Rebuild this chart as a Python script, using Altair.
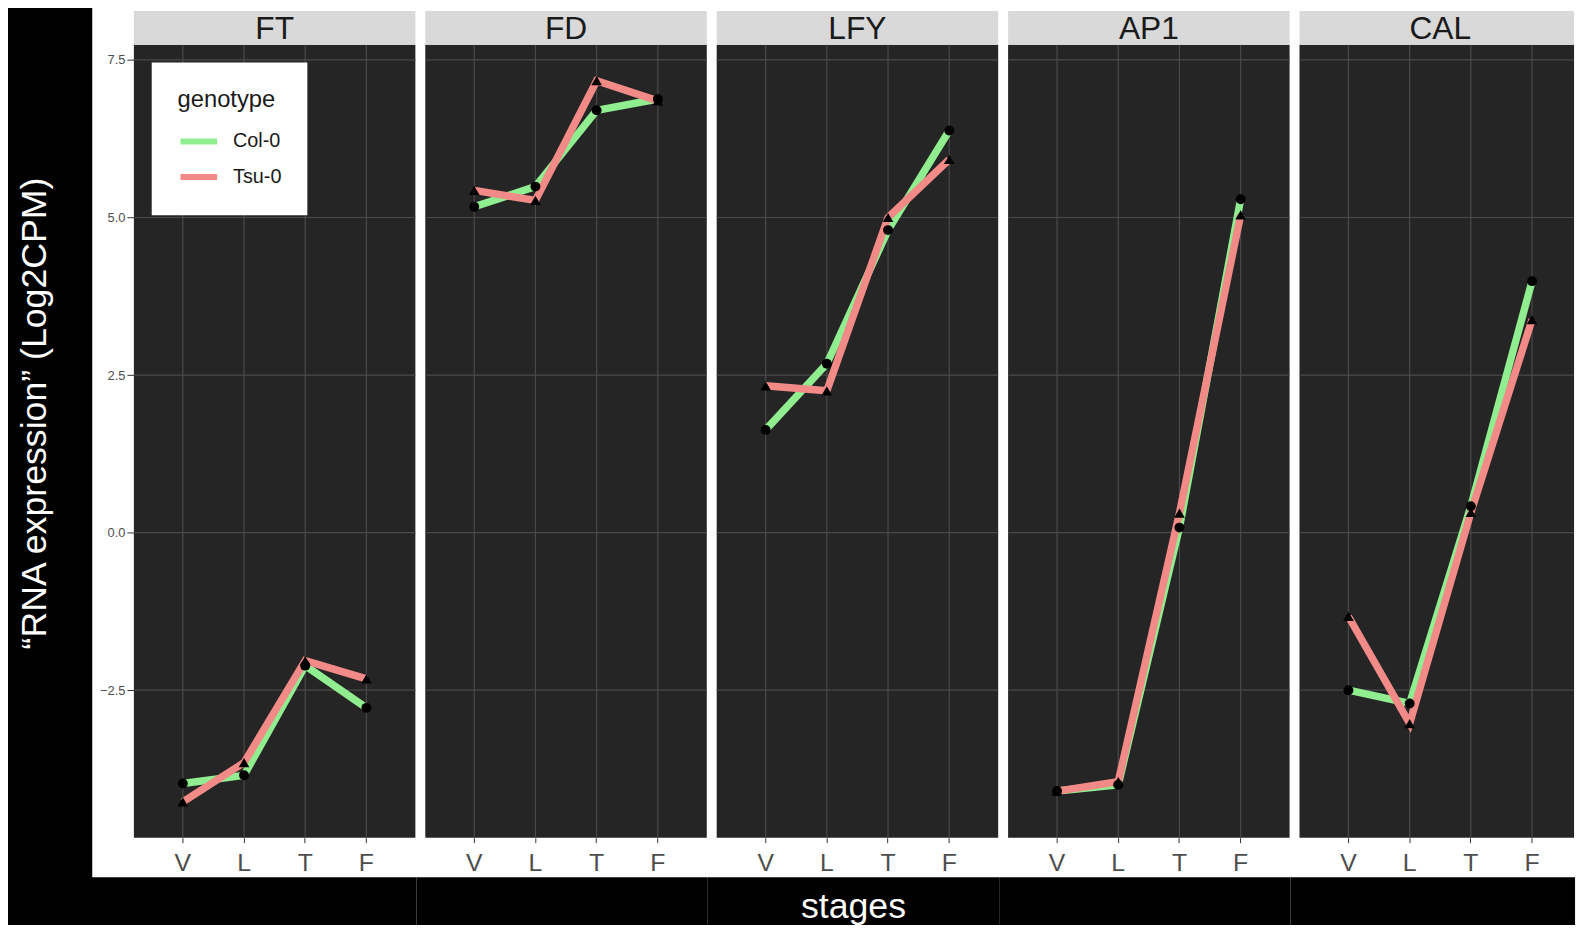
import altair as alt
import pandas as pd

# ---------------- data ----------------
genes = ["FT", "FD", "LFY", "AP1", "CAL"]
stages = ["V", "L", "T", "F"]
genotypes = ["Col-0", "Tsu-0"]

col0_values = {
    "FT": [-3.98, -3.85, -2.11, -2.78],
    "FD": [5.17, 5.49, 6.70, 6.88],
    "LFY": [1.63, 2.68, 4.80, 6.38],
    "AP1": [-4.10, -4.00, 0.08, 5.29],
    "CAL": [-2.50, -2.71, 0.42, 3.99],
}
tsu0_values = {
    "FT": [-4.27, -3.65, -2.03, -2.32],
    "FD": [5.43, 5.27, 7.17, 6.85],
    "LFY": [2.33, 2.25, 5.00, 5.92],
    "AP1": [-4.10, -3.95, 0.31, 5.04],
    "CAL": [-1.33, -3.03, 0.32, 3.38],
}
y_ticks = [-2.5, 0.0, 2.5, 5.0, 7.5]
y_domain = [-4.84, 7.74]
y_title = "\u201cRNA expression\u201d (Log2CPM)"
x_title = "stages"

rows = []
for g in genes:
    for geno, src in (("Col-0", col0_values), ("Tsu-0", tsu0_values)):
        for i, s in enumerate(stages):
            rows.append({"gene": g, "genotype": geno, "stage": s, "idx": i,
                         "value": src[g][i]})
df = pd.DataFrame(rows)

# ---------------- style ----------------
FONT = "Liberation Sans"
W = 284
W_LAST = 277
H = 800
GAP = 9
LEFT = 127
TOP = 39
BOTTOM_WHITE = 40
BOTTOM_BLACK = 88
PANEL_BG = "#252525"
GRID = "#4a4a4a"
STRIP = "#D9D9D9"
LINE_COLORS = ["#90EE90", "#F28B88"]

y_scale = alt.Scale(domain=y_domain, nice=False, zero=False)

legend = alt.Legend(
    orient="none", legendX=18, legendY=18, title="genotype",
    fillColor="white", padding=26, symbolType="stroke", symbolStrokeWidth=6,
    symbolSize=1369, labelFontSize=20, titleFontSize=24, titleFontWeight="normal",
    titleColor="#1A1A1A", labelColor="#1A1A1A", titleFont=FONT, labelFont=FONT,
    rowPadding=2, titlePadding=8, labelOffset=13,
)


def make_panel(i, gene):
    last = i == len(genes) - 1
    w = W_LAST if last else W
    if last:
        xs = alt.Scale(domain=stages, padding=0.6, range=[0, W])
    else:
        xs = alt.Scale(domain=stages, padding=0.6)
    d = df[df["gene"] == gene]
    one = pd.DataFrame({"gene": [gene]})

    xaxis = alt.Axis(title=None, domain=False, grid=False, tickColor="#333333",
                     tickSize=5, labelFontSize=25, labelColor="#4D4D4D",
                     labelPadding=8, labelAngle=0, labelFont=FONT)
    if i == 0:
        yaxis = alt.Axis(values=y_ticks, grid=False, domain=False, title=None,
                         format=".1f", tickColor="#333333", tickSize=7,
                         labelFontSize=13, labelColor="#4D4D4D", labelPadding=2,
                         labelFont=FONT)
    else:
        yaxis = None

    def X(field="stage:N"):
        return alt.X(field, scale=xs, axis=xaxis)

    def Y(field="value:Q"):
        return alt.Y(field, scale=y_scale, axis=yaxis)

    layers = []
    # black band below the white plot region (x title sits on it)
    left_ext = -LEFT if i == 0 else -GAP
    layers.append(alt.Chart(one).mark_rect(color="black", clip=False).encode(
        x=alt.value(left_ext), x2=alt.value(w + 1),
        y=alt.value(H + BOTTOM_WHITE), y2=alt.value(H + BOTTOM_BLACK)))
    if i == 0:
        # black band on the left (y title sits on it)
        layers.append(alt.Chart(one).mark_rect(color="black", clip=False).encode(
            x=alt.value(-LEFT), x2=alt.value(-42),
            y=alt.value(-TOP), y2=alt.value(H + BOTTOM_BLACK)))
    layers.append(alt.Chart(one).mark_rect(color=PANEL_BG).encode(
        x=alt.value(0), x2=alt.value(w), y=alt.value(0), y2=alt.value(H)))
    # grid lines
    layers.append(alt.Chart(pd.DataFrame({"value": y_ticks})).mark_rule(
        color=GRID, strokeWidth=1.2).encode(y=Y()))
    layers.append(alt.Chart(pd.DataFrame({"stage": stages})).mark_rule(
        color=GRID, strokeWidth=1.2).encode(x=X()))
    # data
    layers.append(alt.Chart(d).mark_line(strokeWidth=7.5).encode(
        x=X(), y=Y(),
        color=alt.Color("genotype:N", scale=alt.Scale(domain=genotypes, range=LINE_COLORS),
                        legend=legend),
        order=alt.Order("idx:Q"),
    ))
    for geno, shp, sz in (("Col-0", "circle", 100), ("Tsu-0", "triangle-up", 115)):
        layers.append(alt.Chart(d).transform_filter(
            alt.datum.genotype == geno).mark_point(
            filled=True, opacity=1, color="black", size=sz, shape=shp).encode(
            x=X(), y=Y()))
    # facet strip
    layers.append(alt.Chart(one).mark_rect(color=STRIP, clip=False).encode(
        x=alt.value(0), x2=alt.value(w), y=alt.value(-34), y2=alt.value(0)))
    layers.append(alt.Chart(one).mark_text(fontSize=32, color="#1A1A1A", font=FONT,
                                           clip=False).encode(
        x=alt.value(W / 2), y=alt.value(-16), text="gene:N"))
    if i == 0:
        layers.append(alt.Chart(pd.DataFrame({"label": [y_title]})).mark_text(
            fontSize=36, color="white", font=FONT, angle=270, align="center",
            baseline="middle", clip=False).encode(
            x=alt.value(-100), y=alt.value(372), text="label:N"))
    if i == 2:
        layers.append(alt.Chart(pd.DataFrame({"label": [x_title]})).mark_text(
            fontSize=36, color="white", font=FONT, align="center",
            baseline="middle", clip=False).encode(
            x=alt.value(W / 2 - 4), y=alt.value(H + 70), text="label:N"))

    return alt.layer(*layers).properties(width=w, height=H)


panels = [make_panel(i, g) for i, g in enumerate(genes)]

chart = alt.hconcat(*panels, spacing=0).resolve_scale(
    color="shared"
).properties(
    background="white",
    padding={"left": 0, "top": -6, "right": 0, "bottom": 0},
).configure_view(strokeWidth=0)

chart.save("out.html", embed_options={"renderer": "svg", "actions": False})
